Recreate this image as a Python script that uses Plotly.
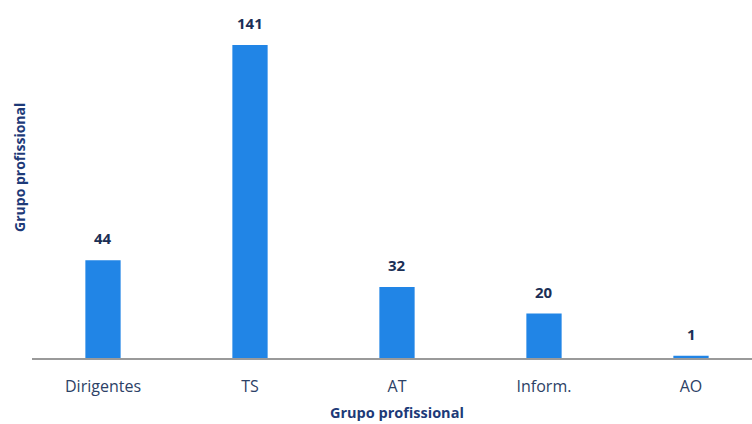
import plotly.graph_objects as go

categories = ["Dirigentes", "TS", "AT", "Inform.", "AO"]
values = [44, 141, 32, 20, 1]
axis_title = "Grupo profissional"

bar_color = "#2185e6"
label_color = "#1b2f55"
tick_color = "#2c4166"
title_color = "#1d3a78"
font_family = "Open Sans, Lato, sans-serif"

fig = go.Figure()
fig.add_trace(go.Bar(
    x=categories, y=values, width=0.24,
    marker=dict(color=bar_color, line=dict(width=0)),
    hoverinfo="skip",
))

for c, v in zip(categories, values):
    fig.add_annotation(
        x=c, y=v, text=f"<b>{v}</b>", showarrow=False,
        yshift=22, font=dict(size=15, color=label_color, family=font_family),
    )

fig.add_annotation(
    x="AT", xref="x", y=-0.158, yref="paper", yanchor="middle", xanchor="center",
    text=f"<b>{axis_title}</b>",
    showarrow=False, font=dict(size=14.5, color=title_color, family=font_family),
)
fig.add_annotation(
    x=-0.0167, xref="paper", y=0.549, yref="paper", xanchor="center", yanchor="middle",
    text=f"<b>{axis_title}</b>",
    textangle=-90, showarrow=False,
    font=dict(size=14, color=title_color, family=font_family),
)

fig.update_layout(
    width=752, height=424,
    margin=dict(l=32, r=0, t=10, b=66),
    paper_bgcolor="white", plot_bgcolor="white",
    showlegend=False,
    font=dict(family=font_family),
    xaxis=dict(
        range=[-0.483, 4.415], showgrid=False, zeroline=False,
        showline=True, linecolor="#9a9a9a", linewidth=1.5,
        ticks="", ticklabelstandoff=13,
        tickfont=dict(size=16, color=tick_color, family=font_family),
    ),
    yaxis=dict(
        range=[0, 156.8], showgrid=False, zeroline=False,
        showline=False, showticklabels=False, ticks="",
    ),
)

fig.write_html("out.html")
